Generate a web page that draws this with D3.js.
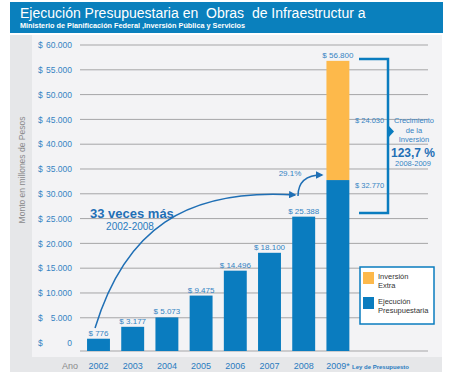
<!doctype html>
<html>
<head>
<meta charset="utf-8">
<script src="https://d3js.org/d3.v7.min.js"></script>
<style>
  body { margin: 0; background: #fff; }
  text { font-family: "Liberation Sans", Arial, sans-serif; }
</style>
</head>
<body>
<svg id="chart" width="450" height="384"></svg>
<script>
// data
var years = ["2002", "2003", "2004", "2005", "2006", "2007", "2008", "2009"];
var ejecucion = [776, 3177, 5073, 9475, 14496, 18100, 25388, 32770];
var extra = [0, 0, 0, 0, 0, 0, 0, 24030];
var yTicks = [0, 5000, 10000, 15000, 20000, 25000, 30000, 35000, 40000, 45000, 50000, 55000, 60000];

var blue = "#0a7cbf", orange = "#fdb94b", labelBlue = "#3584c3";

var svg = d3.select("#chart");
var loc = d3.formatLocale({ decimal: ",", thousands: ".", grouping: [3], currency: ["$", ""] });
var fmt = loc.format(",d");

// background panels
svg.append("rect").attr("x", 10).attr("y", 35).attr("width", 432).attr("height", 337).attr("fill", "#e6e7e9");
svg.append("rect").attr("x", 32).attr("y", 35).attr("width", 410).attr("height", 322).attr("fill", "#f3f3f5");

// title banner
svg.append("rect").attr("x", 10).attr("y", 2).attr("width", 433).attr("height", 31).attr("fill", "#0a80bd");
svg.append("text").attr("x", 20).attr("y", 17.5).attr("fill", "#fff").attr("font-size", "14px")
   .style("white-space", "pre")
   .text("Ejecución Presupuestaria en  Obras  de Infraestructur a");
svg.append("text").attr("x", 20).attr("y", 28).attr("fill", "#fff").attr("font-size", "7.3px")
   .attr("font-weight", "bold")
   .text("Ministerio de Planificación Federal ,Inversión Pública y Servicios");

// scales (bars in the picture sit a little below the $ 0 label)
var y = d3.scaleLinear().domain([-1700, 60000]).range([351, 45]);
var x = d3.scaleBand().domain(years).range([81.4, 355]).paddingInner(0.33).paddingOuter(0.165);

// gridlines
svg.append("g").selectAll("line").data(yTicks.filter(function(d) { return d > 0; }))
   .enter().append("line")
   .attr("x1", 80).attr("x2", 428)
   .attr("y1", function(d) { return y(d); }).attr("y2", function(d) { return y(d); })
   .attr("stroke", "#a5a5a7").attr("stroke-width", 1);
svg.append("line").attr("x1", 80).attr("x2", 428).attr("y1", y(-1700)).attr("y2", y(-1700))
   .attr("stroke", "#a5a5a7");

// y axis labels
var yAxis = svg.append("g").attr("transform", "translate(72,0)")
   .call(d3.axisLeft(y).tickValues(yTicks).tickSize(0).tickPadding(0).tickFormat(fmt));
yAxis.select(".domain").remove();
yAxis.selectAll("text").attr("fill", labelBlue).attr("font-size", "8.5px")
   .attr("font-family", "Liberation Sans, Arial, sans-serif");
yAxis.selectAll(".tick").append("text").attr("x", -34).attr("dy", "0.32em")
   .attr("text-anchor", "start").attr("fill", labelBlue).attr("font-size", "8.5px")
   .attr("font-family", "Liberation Sans, Arial, sans-serif").text("$");

svg.append("text").attr("transform", "translate(25,170) rotate(-90)")
   .attr("text-anchor", "middle").attr("fill", "#8a8a8c").attr("font-size", "8.5px")
   .text("Monto en millones de Pesos");

// bars
svg.append("g").selectAll("rect").data(years).enter().append("rect")
   .attr("x", function(d) { return x(d); })
   .attr("width", x.bandwidth())
   .attr("y", function(d, i) { return y(ejecucion[i]); })
   .attr("height", function(d, i) { return y(-1700) - y(ejecucion[i]); })
   .attr("fill", blue);
svg.append("g").selectAll("rect").data(years).enter().append("rect")
   .attr("x", function(d) { return x(d); })
   .attr("width", x.bandwidth())
   .attr("y", function(d, i) { return y(ejecucion[i] + extra[i]); })
   .attr("height", function(d, i) { return y(ejecucion[i]) - y(ejecucion[i] + extra[i]); })
   .attr("fill", orange);

// value labels
svg.append("g").selectAll("text").data(years).enter().append("text")
   .attr("x", function(d) { return x(d) + x.bandwidth() / 2; })
   .attr("y", function(d, i) { return y(ejecucion[i] + extra[i]) - 3; })
   .attr("text-anchor", "middle").attr("fill", labelBlue).attr("font-size", "8px")
   .text(function(d, i) { return "$ " + fmt(ejecucion[i] + extra[i]); });
var last = years.length - 1;
svg.append("text").attr("x", 355).attr("y", y(ejecucion[last] + extra[last] / 2) + 3)
   .attr("fill", labelBlue).attr("font-size", "7.5px").text("$ " + fmt(extra[last]));
svg.append("text").attr("x", 355).attr("y", y(ejecucion[last]) + 8)
   .attr("fill", labelBlue).attr("font-size", "7.5px").text("$ " + fmt(ejecucion[last]));

// x axis labels
svg.append("g").selectAll("text").data(years).enter().append("text")
   .attr("x", function(d) { return x(d) + x.bandwidth() / 2; })
   .attr("y", 369).attr("text-anchor", "middle").attr("fill", "#2a7bbf").attr("font-size", "9px")
   .text(function(d, i) { return i === last ? d + "*" : d; });
svg.append("text").attr("x", 70).attr("y", 369).attr("text-anchor", "middle")
   .attr("fill", "#8a8a8c").attr("font-size", "9px").text("Ano");
svg.append("text").attr("x", 352).attr("y", 368.5).attr("fill", "#2a7bbf").attr("font-size", "6px")
   .attr("font-weight", "bold").text("Ley de Presupuesto");

// arrows
var defs = svg.append("defs");
defs.append("marker").attr("id", "arr").attr("viewBox", "0 0 10 10").attr("refX", 8).attr("refY", 5)
   .attr("markerWidth", 5).attr("markerHeight", 5).attr("orient", "auto")
   .append("path").attr("d", "M0,0 L10,5 L0,10 z").attr("fill", "#1f6fb5");

var p1 = d3.path();
p1.moveTo(x("2002") + 8, 328);
p1.bezierCurveTo(125, 230, 185, 188, 295, 195);
svg.append("path").attr("d", p1.toString()).attr("fill", "none").attr("stroke", "#1f6fb5")
   .attr("stroke-width", 1.5).attr("marker-end", "url(#arr)");

var p2 = d3.path();
p2.moveTo(298, 196);
p2.bezierCurveTo(298, 180, 308, 175, 322, 175);
svg.append("path").attr("d", p2.toString()).attr("fill", "none").attr("stroke", "#1f6fb5")
   .attr("stroke-width", 1.5).attr("marker-end", "url(#arr)");

svg.append("text").attr("x", 290).attr("y", 176).attr("text-anchor", "middle")
   .attr("fill", labelBlue).attr("font-size", "8px").text("29.1%");

svg.append("text").attr("x", 90).attr("y", 218).attr("fill", "#1f6fb5").attr("font-size", "13px")
   .attr("font-weight", "bold").text("33 veces más");
svg.append("text").attr("x", 130).attr("y", 230).attr("text-anchor", "middle")
   .attr("fill", "#2a7bbf").attr("font-size", "10px").text("2002-2008");

// bracket
svg.append("path").attr("d", "M359,59 H388 V213 H359").attr("fill", "none")
   .attr("stroke", blue).attr("stroke-width", 2.5);
svg.append("path").attr("d", "M388,125 L394,131.5 L388,138 z").attr("fill", blue);

var growth = ["Crecimiento", "de la", "Inversión"];
svg.append("g").selectAll("text").data(growth).enter().append("text")
   .attr("x", 414).attr("y", function(d, i) { return 123 + i * 9.5; })
   .attr("text-anchor", "middle").attr("fill", labelBlue).attr("font-size", "7.5px")
   .text(function(d) { return d; });
svg.append("text").attr("x", 413).attr("y", 157).attr("text-anchor", "middle")
   .attr("fill", "#1f6fb5").attr("font-size", "12px").attr("font-weight", "bold").text("123,7 %");
svg.append("text").attr("x", 413).attr("y", 166).attr("text-anchor", "middle")
   .attr("fill", labelBlue).attr("font-size", "7.5px").text("2008-2009");

// legend
var legendItems = [["Inversión", "Extra"], ["Ejecución", "Presupuestaria"]];
var legendColors = [orange, blue];
svg.append("rect").attr("x", 360).attr("y", 267).attr("width", 74).attr("height", 57)
   .attr("fill", "#fff").attr("stroke", blue).attr("stroke-width", 1.5);
var lg = svg.append("g").selectAll("g").data(legendItems).enter().append("g")
   .attr("transform", function(d, i) { return "translate(363," + (272 + i * 25) + ")"; });
lg.append("rect").attr("width", 11).attr("height", 12).attr("fill", function(d, i) { return legendColors[i]; });
lg.append("text").attr("x", 15).attr("y", 7).attr("font-size", "7.5px").attr("fill", "#333")
   .text(function(d) { return d[0]; });
lg.append("text").attr("x", 15).attr("y", 16).attr("font-size", "7.5px").attr("fill", "#333")
   .text(function(d) { return d[1]; });
</script>
</body>
</html>
